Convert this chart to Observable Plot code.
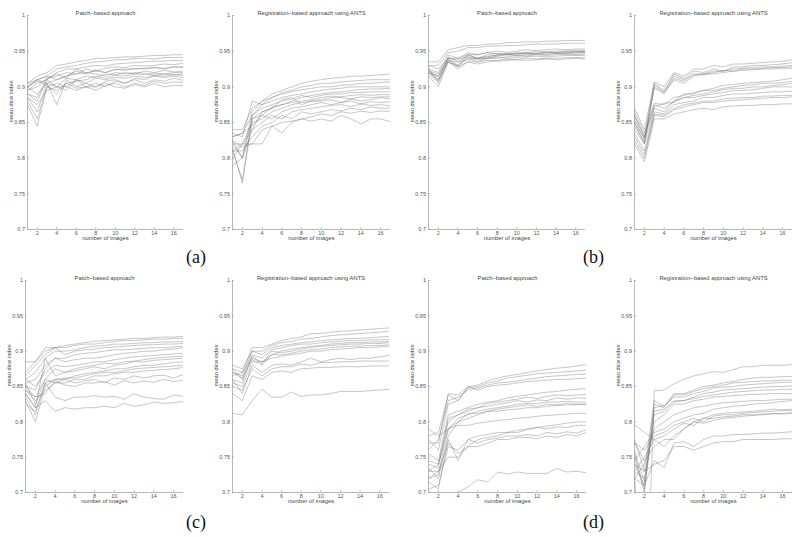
<!DOCTYPE html>
<html><head><meta charset="utf-8">
<script src="https://cdn.jsdelivr.net/npm/d3@7"></script>
<script src="https://cdn.jsdelivr.net/npm/@observablehq/plot@0.6"></script>
<style>
body{margin:0;background:#fff;}
#root{position:relative;width:800px;height:537px;overflow:hidden;background:#fff;font-family:"Liberation Sans",Arial,sans-serif;}
.panel{position:absolute;}
.panel svg{overflow:visible;}
.tag{position:absolute;font-family:"Liberation Serif","Times New Roman",serif;font-size:18px;color:#111;line-height:1;}
</style></head><body><div id="root"></div>
<script>
const numImages = [1,2,3,4,5,6,7,8,9,10,11,12,13,14,15,16,17];
const yTicks = [0.7,0.75,0.8,0.85,0.9,0.95,1];
const xTicks = [2,4,6,8,10,12,14,16];
const titles = ["Patch\u2212based approach", "Registration\u2212based approach using ANTS"];
const xLabel = "number of images";
const yLabel = "mean dice index";
const tags = ["(a)", "(b)", "(c)", "(d)"];

const patchA = [
 [.905,.915,.92,.93,.932,.935,.937,.94,.94,.941,.942,.942,.943,.944,.944,.945,.945],
 [.90,.91,.915,.925,.928,.93,.933,.935,.936,.938,.938,.94,.94,.939,.941,.941,.941],
 [.895,.905,.91,.92,.925,.925,.928,.93,.929,.932,.933,.934,.935,.936,.936,.937,.937],
 [.89,.885,.912,.915,.92,.918,.925,.922,.926,.928,.927,.93,.929,.93,.932,.931,.933],
 [.885,.865,.905,.91,.915,.922,.918,.924,.92,.925,.923,.926,.925,.927,.926,.928,.928],
 [.90,.91,.905,.90,.912,.91,.915,.913,.918,.917,.92,.918,.922,.92,.923,.921,.922],
 [.88,.855,.90,.895,.905,.908,.91,.915,.912,.916,.915,.918,.917,.919,.918,.92,.92],
 [.875,.845,.90,.905,.90,.91,.905,.912,.91,.913,.912,.915,.913,.916,.915,.917,.916],
 [.90,.89,.905,.875,.91,.90,.905,.90,.908,.91,.905,.912,.91,.915,.913,.915,.913],
 [.89,.88,.91,.90,.895,.91,.90,.905,.90,.908,.905,.91,.905,.91,.908,.912,.909],
 [.90,.908,.902,.89,.905,.898,.90,.895,.902,.905,.90,.905,.902,.908,.905,.907,.906],
 [.885,.875,.895,.90,.90,.895,.90,.90,.905,.90,.898,.903,.90,.905,.90,.902,.902],
 [.905,.91,.915,.91,.915,.918,.92,.922,.92,.924,.925,.925,.926,.927,.925,.928,.927],
 [.895,.90,.912,.918,.912,.925,.92,.918,.915,.92,.918,.92,.919,.916,.918,.917,.918]
];
const antsA = [
 [.84,.84,.87,.88,.89,.895,.90,.905,.908,.91,.912,.913,.915,.915,.916,.917,.918],
 [.83,.835,.86,.875,.885,.892,.895,.90,.902,.905,.905,.907,.908,.909,.91,.91,.91],
 [.825,.80,.865,.88,.885,.89,.893,.896,.898,.90,.90,.902,.903,.905,.905,.906,.907],
 [.835,.83,.88,.875,.88,.885,.888,.89,.893,.895,.897,.898,.90,.90,.90,.90,.90],
 [.82,.80,.855,.865,.87,.875,.88,.885,.888,.89,.892,.893,.895,.896,.897,.897,.898],
 [.81,.77,.86,.87,.875,.88,.883,.888,.885,.888,.89,.89,.892,.892,.893,.893,.893],
 [.815,.765,.855,.86,.872,.875,.878,.88,.882,.885,.887,.886,.888,.889,.888,.889,.889],
 [.79,.80,.84,.865,.87,.882,.885,.875,.88,.882,.885,.885,.883,.886,.885,.886,.886],
 [.82,.82,.85,.855,.865,.87,.875,.878,.88,.88,.882,.878,.883,.88,.882,.885,.883],
 [.83,.835,.845,.86,.855,.865,.87,.872,.875,.878,.875,.878,.88,.876,.879,.878,.879],
 [.80,.82,.84,.85,.86,.855,.865,.868,.87,.872,.874,.875,.872,.876,.874,.875,.873],
 [.81,.81,.83,.845,.85,.86,.855,.865,.862,.865,.868,.866,.87,.868,.872,.87,.87],
 [.825,.815,.82,.84,.845,.85,.852,.855,.858,.862,.86,.865,.863,.866,.864,.866,.866],
 [.81,.82,.82,.82,.845,.835,.85,.855,.852,.855,.852,.86,.855,.848,.855,.855,.851]
];
const patchB = [
 [.935,.935,.952,.955,.958,.958,.96,.96,.962,.962,.963,.963,.964,.964,.965,.965,.965],
 [.93,.93,.948,.95,.955,.955,.957,.957,.958,.958,.959,.96,.96,.96,.961,.961,.961],
 [.925,.92,.945,.94,.948,.945,.948,.95,.948,.95,.952,.951,.952,.953,.952,.953,.953],
 [.92,.91,.942,.935,.945,.94,.945,.947,.945,.948,.948,.95,.949,.95,.95,.951,.951],
 [.92,.915,.94,.93,.945,.94,.942,.945,.947,.946,.948,.947,.949,.948,.95,.949,.95],
 [.925,.905,.938,.928,.942,.938,.94,.943,.945,.943,.945,.946,.945,.947,.946,.947,.948],
 [.915,.90,.935,.93,.94,.935,.94,.94,.942,.944,.943,.945,.944,.945,.946,.945,.946],
 [.93,.925,.94,.94,.945,.945,.948,.946,.945,.947,.946,.947,.948,.947,.948,.949,.948],
 [.92,.915,.937,.935,.938,.94,.94,.942,.94,.941,.942,.943,.942,.943,.944,.944,.944],
 [.925,.91,.935,.925,.935,.935,.937,.937,.939,.938,.94,.939,.94,.94,.941,.941,.941],
 [.918,.908,.935,.928,.935,.932,.935,.936,.937,.938,.937,.938,.939,.938,.939,.94,.939],
 [.922,.918,.94,.938,.942,.94,.943,.944,.946,.945,.947,.946,.947,.948,.947,.949,.949]
];
const antsB = [
 [.87,.84,.907,.90,.92,.915,.925,.925,.93,.928,.932,.932,.933,.934,.935,.936,.938],
 [.86,.83,.905,.895,.918,.912,.922,.92,.925,.922,.928,.928,.93,.93,.931,.932,.934],
 [.855,.825,.903,.893,.915,.91,.918,.918,.922,.922,.925,.926,.927,.928,.928,.929,.93],
 [.85,.82,.90,.892,.912,.908,.917,.917,.92,.923,.922,.925,.925,.926,.927,.927,.928],
 [.845,.822,.898,.89,.91,.905,.915,.918,.918,.92,.922,.923,.924,.925,.925,.926,.926],
 [.865,.835,.877,.875,.885,.888,.892,.895,.898,.902,.903,.905,.906,.907,.908,.91,.912],
 [.86,.83,.875,.87,.88,.89,.89,.895,.895,.898,.90,.902,.903,.905,.905,.906,.908],
 [.85,.828,.872,.877,.878,.885,.888,.89,.893,.896,.898,.898,.90,.90,.902,.903,.905],
 [.84,.82,.87,.865,.88,.885,.885,.888,.89,.892,.895,.895,.896,.898,.90,.90,.90],
 [.835,.81,.865,.862,.875,.878,.88,.885,.885,.888,.89,.89,.891,.892,.893,.893,.894],
 [.83,.805,.862,.86,.87,.875,.877,.88,.88,.883,.884,.885,.885,.887,.887,.888,.888],
 [.825,.80,.86,.858,.868,.872,.875,.878,.878,.88,.881,.882,.883,.884,.885,.885,.886],
 [.82,.795,.855,.855,.862,.865,.868,.87,.868,.872,.873,.874,.874,.875,.875,.876,.876]
];
const patchC = [
 [.87,.885,.90,.905,.908,.91,.912,.914,.915,.916,.917,.918,.918,.919,.92,.92,.921],
 [.865,.88,.895,.905,.905,.908,.91,.91,.912,.914,.915,.915,.916,.917,.917,.918,.918],
 [.86,.87,.89,.90,.90,.902,.905,.907,.908,.91,.91,.911,.912,.912,.913,.913,.914],
 [.885,.885,.905,.905,.895,.90,.902,.903,.905,.906,.907,.908,.909,.909,.91,.91,.911],
 [.855,.86,.88,.89,.89,.895,.897,.898,.90,.902,.902,.903,.904,.905,.905,.906,.907],
 [.85,.845,.875,.89,.885,.888,.89,.89,.892,.895,.897,.898,.90,.90,.902,.903,.905],
 [.86,.85,.87,.88,.878,.88,.882,.885,.885,.888,.89,.892,.893,.894,.895,.896,.897],
 [.845,.835,.86,.875,.87,.875,.878,.88,.883,.882,.885,.886,.888,.89,.891,.892,.893],
 [.84,.82,.89,.865,.87,.872,.875,.878,.875,.88,.882,.885,.885,.887,.888,.889,.89],
 [.835,.81,.855,.86,.86,.865,.868,.87,.872,.875,.875,.878,.88,.88,.882,.884,.885],
 [.83,.80,.85,.86,.862,.862,.865,.868,.87,.87,.872,.875,.876,.877,.878,.879,.88],
 [.845,.83,.845,.855,.855,.86,.86,.865,.865,.868,.87,.87,.872,.873,.874,.875,.877],
 [.855,.825,.86,.855,.86,.855,.858,.86,.855,.862,.86,.865,.862,.865,.866,.862,.867],
 [.85,.835,.84,.858,.852,.85,.855,.855,.857,.852,.858,.855,.858,.856,.86,.857,.859],
 [.825,.815,.855,.835,.83,.835,.835,.837,.835,.836,.832,.84,.835,.833,.832,.838,.836],
 [.84,.82,.83,.815,.82,.818,.82,.82,.822,.82,.826,.822,.824,.828,.826,.827,.829]
];
const antsC = [
 [.875,.87,.905,.905,.91,.915,.918,.92,.925,.925,.927,.928,.929,.93,.931,.932,.933],
 [.88,.875,.90,.90,.908,.912,.914,.917,.918,.92,.922,.923,.924,.925,.926,.927,.928],
 [.87,.865,.90,.895,.905,.908,.91,.912,.913,.915,.916,.917,.918,.918,.919,.92,.921],
 [.875,.86,.895,.89,.902,.905,.908,.91,.91,.912,.913,.914,.915,.915,.916,.916,.917],
 [.865,.87,.89,.885,.895,.90,.903,.905,.907,.908,.91,.911,.912,.912,.913,.913,.914],
 [.86,.855,.893,.882,.90,.898,.90,.903,.905,.907,.908,.909,.91,.91,.911,.911,.912],
 [.87,.862,.888,.88,.895,.895,.897,.90,.902,.903,.905,.906,.907,.907,.908,.908,.909],
 [.855,.85,.885,.885,.89,.893,.895,.897,.90,.90,.902,.903,.904,.905,.905,.906,.907],
 [.86,.84,.88,.87,.88,.882,.88,.885,.89,.885,.888,.89,.888,.89,.89,.892,.894],
 [.85,.845,.875,.865,.875,.878,.878,.882,.88,.884,.884,.885,.885,.886,.886,.886,.886],
 [.84,.83,.865,.86,.87,.872,.87,.875,.876,.877,.877,.878,.878,.878,.879,.879,.879],
 [.812,.81,.83,.846,.835,.835,.842,.836,.838,.838,.84,.843,.843,.843,.844,.845,.846]
];
const patchD = [
 [.77,.77,.84,.838,.85,.852,.858,.862,.865,.867,.87,.872,.874,.876,.877,.879,.881],
 [.78,.785,.838,.83,.848,.85,.855,.858,.862,.864,.866,.868,.869,.87,.871,.872,.873],
 [.76,.775,.83,.835,.845,.848,.852,.855,.856,.858,.86,.862,.864,.865,.866,.867,.868],
 [.775,.76,.825,.83,.85,.845,.85,.852,.853,.855,.857,.858,.859,.86,.86,.861,.862],
 [.755,.745,.81,.815,.82,.825,.828,.83,.834,.836,.838,.84,.842,.843,.845,.846,.847],
 [.745,.74,.80,.81,.818,.82,.826,.828,.83,.832,.835,.833,.836,.838,.837,.838,.839],
 [.74,.735,.805,.81,.815,.82,.822,.825,.827,.83,.828,.831,.83,.834,.832,.834,.833],
 [.73,.74,.79,.805,.81,.815,.818,.82,.822,.825,.826,.826,.828,.828,.829,.828,.828],
 [.72,.725,.79,.80,.812,.812,.815,.818,.82,.822,.824,.822,.825,.824,.826,.825,.825],
 [.735,.72,.78,.80,.805,.81,.815,.815,.817,.818,.82,.82,.822,.823,.824,.824,.825],
 [.79,.78,.79,.795,.795,.798,.80,.802,.803,.805,.806,.808,.809,.81,.811,.812,.812],
 [.705,.71,.765,.76,.775,.78,.782,.785,.785,.788,.79,.792,.794,.796,.798,.80,.80],
 [.72,.73,.75,.75,.765,.775,.778,.78,.785,.785,.789,.792,.79,.793,.792,.795,.795],
 [.715,.705,.775,.745,.775,.77,.775,.777,.78,.78,.782,.78,.785,.783,.786,.784,.789],
 [.73,.73,.77,.755,.765,.765,.77,.775,.775,.778,.778,.776,.78,.778,.782,.78,.785],
 [.66,.66,.68,.70,.708,.718,.715,.729,.726,.729,.727,.727,.727,.734,.729,.73,.728]
];
const antsD = [
 [.73,.45,.844,.845,.854,.86,.865,.868,.871,.87,.874,.878,.878,.88,.88,.88,.881],
 [.775,.73,.83,.822,.84,.84,.845,.85,.852,.855,.857,.86,.862,.863,.863,.864,.864],
 [.76,.715,.825,.82,.838,.838,.843,.847,.85,.852,.855,.856,.857,.858,.858,.859,.859],
 [.755,.705,.82,.823,.835,.835,.84,.843,.848,.849,.85,.852,.853,.854,.855,.856,.856],
 [.75,.70,.815,.818,.83,.83,.835,.84,.842,.845,.846,.847,.848,.849,.85,.85,.851],
 [.74,.71,.81,.815,.828,.83,.833,.836,.838,.84,.842,.843,.844,.845,.845,.846,.846],
 [.73,.72,.80,.81,.825,.825,.83,.832,.835,.836,.837,.838,.839,.839,.84,.84,.84],
 [.72,.74,.79,.80,.81,.815,.82,.822,.825,.827,.828,.829,.83,.83,.831,.832,.832],
 [.745,.765,.785,.79,.80,.805,.81,.812,.818,.82,.822,.823,.825,.826,.827,.829,.83],
 [.77,.76,.78,.785,.795,.80,.805,.80,.808,.81,.81,.812,.813,.814,.815,.816,.816],
 [.73,.75,.775,.78,.79,.798,.795,.805,.805,.807,.808,.81,.81,.811,.812,.811,.812],
 [.796,.785,.775,.765,.78,.79,.80,.805,.81,.812,.813,.814,.815,.816,.818,.817,.818],
 [.77,.745,.765,.775,.775,.79,.80,.798,.802,.805,.806,.808,.809,.81,.811,.812,.813],
 [.72,.71,.745,.735,.77,.772,.765,.775,.78,.78,.782,.782,.783,.784,.784,.785,.786],
 [.74,.73,.74,.745,.765,.765,.76,.765,.77,.772,.772,.775,.775,.775,.775,.776,.776]
];

const panels = [
 {series: patchA, title: titles[0], left: 27, right: 183, top: 15, bottom: 229},
 {series: antsA,  title: titles[1], left: 232, right: 390, top: 15, bottom: 229},
 {series: patchB, title: titles[0], left: 428, right: 585, top: 15, bottom: 229},
 {series: antsB,  title: titles[1], left: 634, right: 792, top: 15, bottom: 229},
 {series: patchC, title: titles[0], left: 25, right: 183, top: 280, bottom: 492},
 {series: antsC,  title: titles[1], left: 232, right: 389, top: 280, bottom: 492},
 {series: patchD, title: titles[0], left: 428, right: 586, top: 280, bottom: 492},
 {series: antsD,  title: titles[1], left: 634, right: 792, top: 280, bottom: 492}
];
const tagPos = [
 {left: 186, top: 248}, {left: 583, top: 248}, {left: 186, top: 513}, {left: 583, top: 513}
];

const root = document.getElementById("root");
const ML = 27, MT = 15, MR = 6, MB = 22;
panels.forEach(p => {
  const rows = p.series.flatMap((s, i) => s.map((v, j) => ({id: i, n: numImages[j], dice: v})));
  const width = p.right - p.left + ML + MR;
  const height = p.bottom - p.top + MT + MB;
  const frameH = p.bottom - p.top;
  const tickLenY = 2 / frameH * 0.3;
  const tickLenX = 2 / (p.right - p.left) * 16;
  const chart = Plot.plot({
    width, height,
    marginLeft: ML, marginRight: MR, marginTop: MT, marginBottom: MB,
    style: {fontSize: "5.5px", color: "#555", background: "transparent", fontFamily: "'Liberation Sans', Arial, sans-serif"},
    x: {domain: [1, 17], ticks: xTicks, tickSize: 0, tickPadding: 1.5, label: null},
    y: {domain: [0.7, 1], ticks: yTicks, tickSize: 0, tickPadding: 2.5, tickFormat: d => String(d), label: null},
    marks: [
      Plot.line(rows, {x: "n", y: "dice", z: "id", stroke: "#6a6a6a", strokeOpacity: 0.75, strokeWidth: 0.5, clip: true}),
      Plot.ruleX([1], {stroke: "#999", strokeWidth: 0.7}),
      Plot.ruleY([0.7], {stroke: "#999", strokeWidth: 0.7}),
      Plot.ruleY(yTicks, {y: d => d, x1: 1, x2: 1 + tickLenX, stroke: "#999", strokeWidth: 0.6}),
      Plot.ruleX(xTicks, {x: d => d, y1: 0.7, y2: 0.7 + tickLenY, stroke: "#999", strokeWidth: 0.6}),
      Plot.text([p.title], {frameAnchor: "top", dy: -5, fontSize: 5.8, fill: "#444"}),
      Plot.text([xLabel], {frameAnchor: "bottom", dy: 10.5, fontSize: 5.8, fill: "#444"}),
      Plot.text([yLabel], {frameAnchor: "left", dx: -16.5, rotate: -90, fontSize: 5.8, fill: "#444"})
    ]
  });
  const div = document.createElement("div");
  div.className = "panel";
  div.style.left = (p.left - ML) + "px";
  div.style.top = (p.top - MT) + "px";
  div.appendChild(chart);
  root.appendChild(div);
});
tags.forEach((t, i) => {
  const d = document.createElement("div");
  d.className = "tag";
  d.textContent = t;
  d.style.left = tagPos[i].left + "px";
  d.style.top = tagPos[i].top + "px";
  root.appendChild(d);
});
</script></body></html>
